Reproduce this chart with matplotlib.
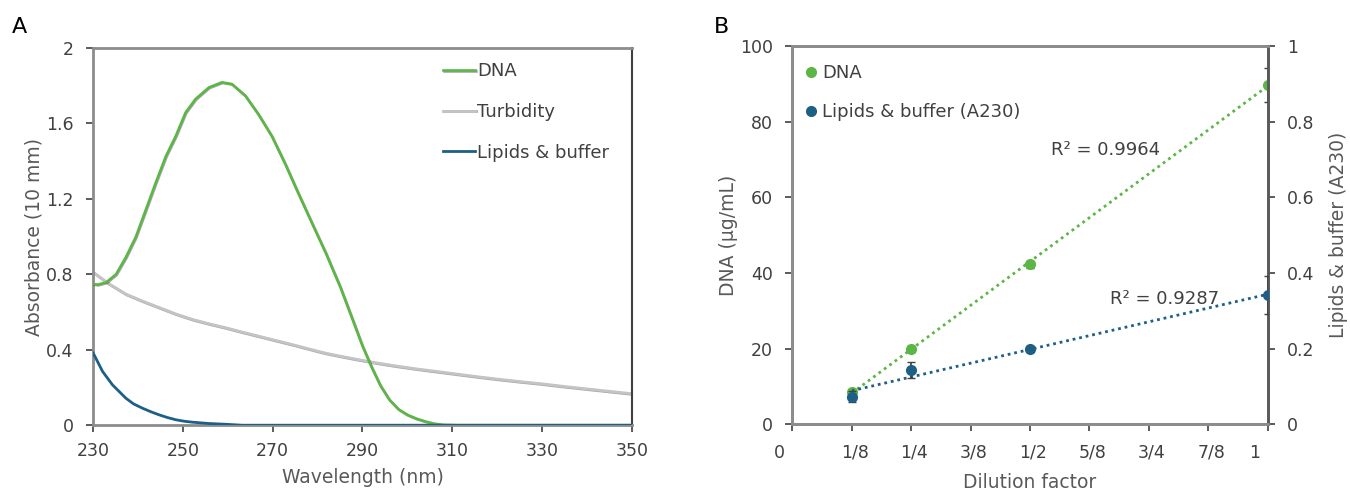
import numpy as np
import matplotlib
matplotlib.use("Agg")
import matplotlib.pyplot as plt
import matplotlib.patheffects as pe
from matplotlib.transforms import ScaledTranslation
from fractions import Fraction

# ---- panel A: absorbance spectra ----
dna_wl = [230, 231, 232.9, 235.1, 237.3, 239.5, 241.7, 243.9, 246.2, 248.4, 250.6, 252.8,
          255.8, 258.7, 260.9, 263.9, 266.8, 269.8, 272.7, 275.7, 278.8, 281.9, 285.1,
          287.8, 290, 292, 294, 296, 298, 300, 302, 304, 306, 308, 311, 350]
dna_abs = [0.749, 0.745, 0.757, 0.80, 0.891, 0.998, 1.14, 1.283, 1.426, 1.533, 1.658, 1.729,
           1.791, 1.818, 1.809, 1.747, 1.649, 1.533, 1.39, 1.23, 1.069, 0.909, 0.73,
           0.56, 0.42, 0.31, 0.21, 0.135, 0.085, 0.055, 0.035, 0.02, 0.008, 0.002, 0.0, 0.0]

turb_wl = [230, 233.5, 237.3, 241, 244.7, 248.4, 252.1, 255.8, 259.5, 263.2, 266.9, 270.6,
           274.3, 278, 281.6, 285.3, 289, 293, 297.5, 302.2, 306.8, 311.4, 316, 320.6,
           325.2, 329.8, 334.4, 339, 344.5, 350]
turb_abs = [0.811, 0.75, 0.695, 0.658, 0.624, 0.59, 0.561, 0.538, 0.517, 0.494, 0.472, 0.45,
            0.428, 0.405, 0.383, 0.365, 0.348, 0.331, 0.314, 0.298, 0.284, 0.27, 0.256,
            0.243, 0.231, 0.22, 0.207, 0.195, 0.181, 0.167]

lip_wl = [230, 232.1, 234.3, 237.3, 239, 241, 243, 244.7, 246.5, 248.4, 250.3, 252.1,
          255.8, 259.5, 263.2, 350]
lip_abs = [0.383, 0.285, 0.214, 0.143, 0.113, 0.09, 0.07, 0.055, 0.041, 0.029, 0.021, 0.016,
           0.009, 0.005, 0.0, 0.0]

# ---- panel B: dilution series ----
dilution = [1/8, 1/4, 1/2, 1]
dna_conc = [8.5, 20.0, 42.3, 89.7]
dna_err = [0.8, 0.8, 0.9, 4.6]
lip_a230 = [0.073, 0.143, 0.198, 0.341]
lip_err = [0.015, 0.022, 0.008, 0.05]
r2_dna = "R² = 0.9964"
r2_lip = "R² = 0.9287"

GREEN = "#5cb646"
BLUE = "#1d5f85"
GREY = "#c4c4c4"
TICK_C = "#404040"
LABEL_C = "#595959"
SPINE_C = "#8c8c8c"
TICK_FS = 12.5
LABEL_FS = 13.5
TEXT_FS = 13

plt.rcParams["font.family"] = ["DejaVu Sans"]
fig = plt.figure(figsize=(13.5, 4.95), dpi=100)

# thin dark rim like the exported Excel traces
RIM = [pe.SimpleLineShadow(offset=(0.5, -0.5), shadow_color="black", alpha=0.35),
       pe.Normal()]

# ---------------- Panel A ----------------
axa = fig.add_axes([0.069, 0.141, 0.399, 0.762])
axa.plot(turb_wl, turb_abs, color=GREY, lw=2.0, label="Turbidity", zorder=2,
         path_effects=RIM)
axa.plot(dna_wl, dna_abs, color=GREEN, lw=1.9, label="DNA", zorder=3,
         path_effects=RIM)
axa.plot(lip_wl, lip_abs, color=BLUE, lw=2.0, label="Lipids & buffer", zorder=4)
axa.set_xlim(230, 350)
axa.set_ylim(0, 2)
axa.set_xticks(np.arange(230, 351, 20))
axa.set_yticks([0, 0.4, 0.8, 1.2, 1.6, 2])
axa.set_yticklabels(["0", "0.4", "0.8", "1.2", "1.6", "2"])
axa.tick_params(colors=TICK_C, labelsize=TICK_FS, length=5, width=1.2, direction="out")
axa.tick_params(axis="y", pad=9)
axa.tick_params(axis="x", pad=7)
for s in ["left", "top", "bottom"]:
    axa.spines[s].set_color(SPINE_C)
    axa.spines[s].set_linewidth(2)
axa.spines["right"].set_color("#404040")
axa.spines["right"].set_linewidth(1.5)
axa.set_xlabel("Wavelength (nm)", color=LABEL_C, fontsize=LABEL_FS, labelpad=6)
axa.set_ylabel("Absorbance (10 mm)", color=LABEL_C, fontsize=LABEL_FS, labelpad=2)
h, l = axa.get_legend_handles_labels()
order = [1, 0, 2]
axa.legend([h[i] for i in order], [l[i] for i in order], loc="upper left",
           bbox_to_anchor=(0.62, 1.005), frameon=False, fontsize=TEXT_FS, handlelength=1.75,
           handletextpad=0.1, labelspacing=1.25, labelcolor=TICK_C)

# ---------------- Panel B ----------------
axb = fig.add_axes([0.587, 0.143, 0.352, 0.764])
axr = axb.twinx()

xs = np.array(dilution)
p_dna = np.polyfit(xs, dna_conc, 1)
p_lip = np.polyfit(xs, lip_a230, 1)
xfit = np.array([xs.min(), xs.max()])
axb.plot(xfit, np.polyval(p_dna, xfit), color=GREEN, lw=2, ls=(0, (1, 1.4)), zorder=2)
axr.plot(xfit, np.polyval(p_lip, xfit), color=BLUE, lw=2, ls=(0, (1, 1.4)), zorder=2)

axb.errorbar(dilution, dna_conc, yerr=dna_err, fmt="none", ecolor="#404040",
             elinewidth=1.2, capsize=3, zorder=3)
axr.errorbar(dilution, lip_a230, yerr=lip_err, fmt="none", ecolor="#404040",
             elinewidth=1.2, capsize=3, zorder=3)
axb.plot(dilution, dna_conc, "o", color=GREEN, ms=7, zorder=4, label="DNA")
axr.plot(dilution, lip_a230, "o", color=BLUE, ms=7, zorder=4,
         label="Lipids & buffer (A230)")

axb.set_xlim(0, 1)
axb.set_ylim(0, 100)
axr.set_ylim(0, 1)
xt = np.arange(0, 9) / 8
axb.set_xticks(xt)
axb.set_xticklabels([str(Fraction(int(v * 8), 8)) for v in xt])
axb.set_yticks(np.arange(0, 101, 20))
axr.set_yticks([0, 0.2, 0.4, 0.6, 0.8, 1])
axr.set_yticklabels(["0", "0.2", "0.4", "0.6", "0.8", "1"])
for ax in (axb, axr):
    ax.tick_params(colors=TICK_C, labelsize=TICK_FS, length=5, width=1.2, direction="out")
    ax.tick_params(axis="y", pad=9)
    for s in ["left", "top", "bottom", "right"]:
        ax.spines[s].set_color(SPINE_C)
        ax.spines[s].set_linewidth(2)
axr.spines["right"].set_color("#595959")
axb.tick_params(axis="x", pad=9)

# Excel-style placement: end labels pulled inward
xlabels = axb.get_xticklabels()
for lab in (xlabels[0], xlabels[-1]):
    lab.set_transform(lab.get_transform() + ScaledTranslation(-0.13, 0, fig.dpi_scale_trans))
for lab in xlabels[1:-1]:
    lab.set_transform(lab.get_transform() + ScaledTranslation(0.03, 0, fig.dpi_scale_trans))

axb.set_xlabel("Dilution factor", color=LABEL_C, fontsize=LABEL_FS, labelpad=8)
axb.set_ylabel("DNA (µg/mL)", color=LABEL_C, fontsize=LABEL_FS, labelpad=1.5)
axr.set_ylabel("Lipids & buffer (A230)", color=LABEL_C, fontsize=LABEL_FS, labelpad=10)

axb.text(0.659, 72.5, r2_dna, color=TICK_C, fontsize=TEXT_FS, ha="center", va="center")
axr.text(0.783, 0.33, r2_lip, color=TICK_C, fontsize=TEXT_FS, ha="center", va="center")

hb, lb = axb.get_legend_handles_labels()
hr, lr = axr.get_legend_handles_labels()
axr.legend(hb + hr, lb + lr, loc="upper left", bbox_to_anchor=(0.0, 0.99),
           frameon=False, fontsize=TEXT_FS, handlelength=0.5, handletextpad=0.35,
           labelspacing=1.15, borderpad=0.3, labelcolor=TICK_C)

fig.text(0.009, 0.945, "A", fontsize=16, color="black", va="center")
fig.text(0.529, 0.945, "B", fontsize=16, color="black", va="center")

fig.savefig("out.png", dpi=100)
